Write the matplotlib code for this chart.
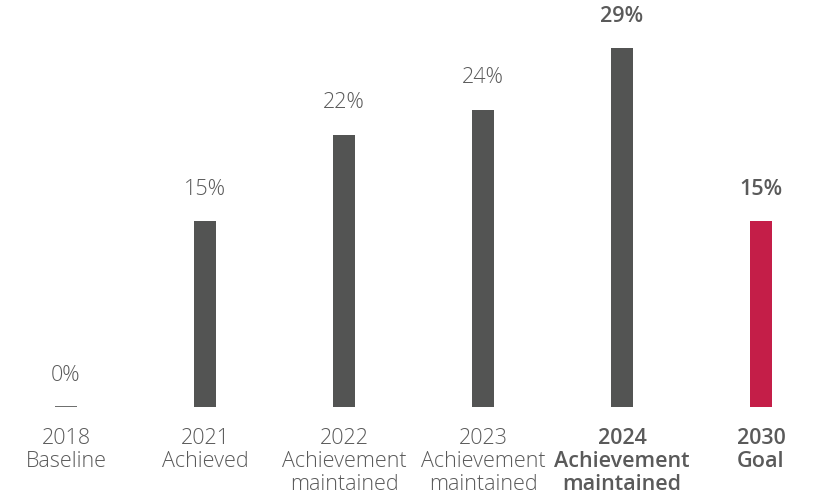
import matplotlib
matplotlib.use("Agg")
import matplotlib.pyplot as plt

years = ["2018", "2021", "2022", "2023", "2024", "2030"]
captions = ["Baseline", "Achieved", "Achievement\nmaintained", "Achievement\nmaintained",
            "Achievement\nmaintained", "Goal"]
values = [0, 15, 22, 24, 29, 15]
emphasis = [False, False, False, False, True, True]
colors = ["#535453"] * 5 + ["#C41E48"]

text_color = "#5a5a5a"
font = ["Open Sans", "DejaVu Sans"]

fig = plt.figure(figsize=(8.2, 4.98), dpi=100)
ax = fig.add_axes([0, 1 - 407 / 498, 1, 407 / 498])
x = list(range(len(values)))
w = 0.158
ax.bar(x, values, width=w, color=colors)
for i, v in enumerate(values):
    if v == 0:
        ax.hlines(0, i - w / 2, i + w / 2, color=colors[i], lw=1.2)
ax.set_xlim(-66 / 139, (820 - 66) / 139)
ax.set_ylim(0, 29 * 407 / 359)
ax.axis("off")

for i, (v, yr, cap, bold) in enumerate(zip(values, years, captions, emphasis)):
    weight = "semibold" if bold else "light"
    ax.annotate(f"{v}%", (i, v), xytext=(0, 23), textcoords="offset points",
                ha="center", va="center", fontsize=15.5, color=text_color,
                family=font, fontweight=weight)
    ax.annotate(f"{yr}\n{cap}", (i, 0), xytext=(0, -15), textcoords="offset points",
                ha="center", va="top", fontsize=15.5, color=text_color,
                family=font, fontweight=weight, linespacing=1.13,
                annotation_clip=False)

fig.savefig("out.png", dpi=100)
